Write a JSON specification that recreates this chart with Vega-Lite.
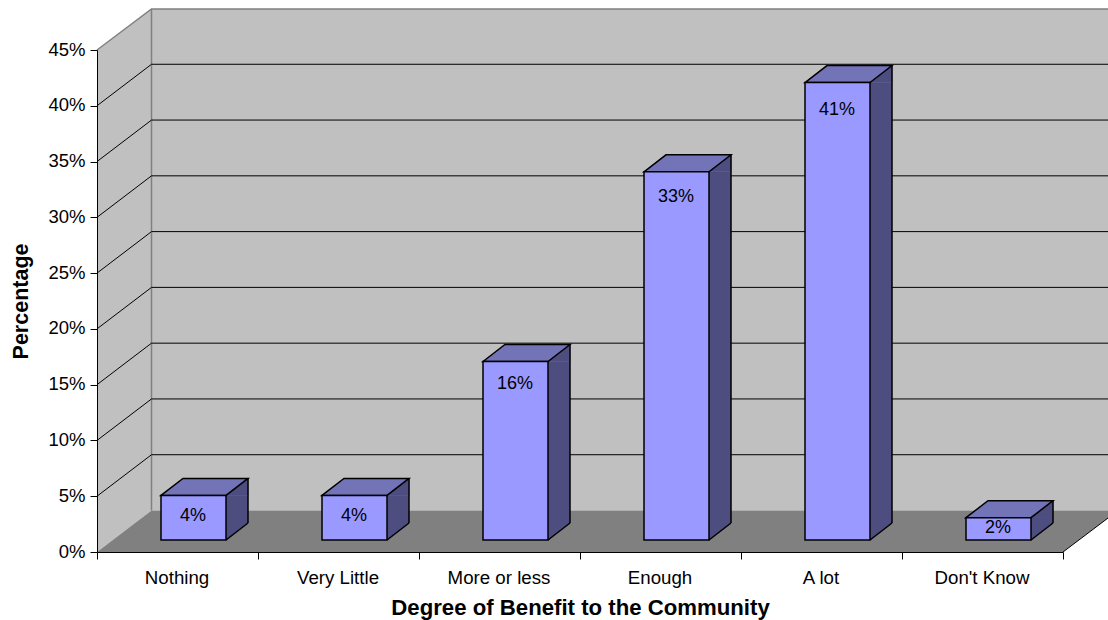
{
"$schema":"https://vega.github.io/schema/vega-lite/v6.json",
"width":966,"height":502,
"autosize":{"type":"none"},
"padding":{"left":97,"top":50,"right":45,"bottom":68},
"background":"white",
"config":{"view":{"stroke":null},"font":"Liberation Sans","text":{"font":"Liberation Sans"}},
"datasets":{
"bars":[{"degree":"Nothing","share":0.04},{"degree":"Very Little","share":0.04},{"degree":"More or less","share":0.16},{"degree":"Enough","share":0.33},{"degree":"A lot","share":0.41},{"degree":"Don't Know","share":0.02}],
"ticks":[{"degree":"Nothing","share":0.05},{"degree":"Nothing","share":0.10},{"degree":"Nothing","share":0.15},{"degree":"Nothing","share":0.20},{"degree":"Nothing","share":0.25},{"degree":"Nothing","share":0.30},{"degree":"Nothing","share":0.35},{"degree":"Nothing","share":0.40}],
"frame":[{"degree":"Nothing","share":0}],
"base":[{"degree":"Nothing","share":0},{"degree":"Very Little","share":0},{"degree":"More or less","share":0},{"degree":"Enough","share":0},{"degree":"A lot","share":0},{"degree":"Don't Know","share":0}]
},
"data":{"name":"bars"},
"encoding":{
"x":{"field":"degree","type":"nominal","sort":null,"title":"Degree of Benefit to the Community",
"scale":{"type":"band","domain":["Nothing","Very Little","More or less","Enough","A lot","Don't Know"],"paddingInner":0,"paddingOuter":0},
"axis":{"tickBand":"extent","labelAngle":0,"labelFont":"Liberation Sans","labelFontSize":18.7,"labelColor":"black","labelPadding":9,"labelOverlap":false,"labelOffset":-1,"tickColor":"black","tickSize":7,"domainColor":"black","grid":false,"titleFont":"Liberation Sans","titleFontSize":22.2,"titleFontWeight":"bold","titleColor":"black","titlePadding":10,"zindex":1}},
"y":{"field":"share","type":"quantitative","title":"Percentage",
"scale":{"domain":[0,0.45],"nice":false},
"axis":{"values":[0,0.05,0.10,0.15,0.20,0.25,0.30,0.35,0.40,0.45],"format":".0%","labelFont":"Liberation Sans","labelFontSize":18.5,"labelColor":"black","labelPadding":5,"labelOffset":-1,"tickColor":"black","tickSize":7,"domainColor":"black","grid":false,"titleFont":"Liberation Sans","titleFontSize":21.5,"titleFontWeight":"bold","titleColor":"black","titleX":-65,"titleY":251,"zindex":1}}
},
"layer":[
{"data":{"name":"frame"},"mark":{"type":"point","shape":"M0 0 L54.5 -41.5 L1021 -41.5 L1021 -543 L54.5 -543 L0 -502 Z","size":4,"filled":true,"fill":"#C0C0C0","stroke":null,"opacity":1,"xOffset":-80.5}},
{"data":{"name":"frame"},"mark":{"type":"point","shape":"M0 0 L54.5 -41.5 L1021 -41.5 L966 0 Z","size":4,"filled":true,"fill":"#808080","stroke":null,"opacity":1,"xOffset":-80.5}},
{"data":{"name":"frame"},"mark":{"type":"point","shape":"M0 -502 L54.5 -543 L1021 -543 M54.5 -543 L54.5 -41.5","size":4,"filled":false,"fill":"transparent","stroke":"#808080","strokeWidth":1.5,"opacity":1,"xOffset":-80.5}},
{"data":{"name":"frame"},"mark":{"type":"point","shape":"M966 0 L1021 -41.5","size":4,"filled":false,"fill":"transparent","stroke":"black","strokeWidth":1,"opacity":1,"xOffset":-80.5}},
{"data":{"name":"ticks"},"mark":{"type":"point","shape":"M0 0 L54.5 -41.5 L1021 -41.5","size":4,"filled":false,"fill":"transparent","stroke":"black","strokeWidth":1,"opacity":1,"xOffset":-80.5}},

{"mark":{"type":"bar","size":22,"color":"#4D4D80","xOffset":59.5,"yOffset":-12,"y2Offset":-29,"stroke":null},"encoding":{"y2":{"datum":0}}},
{"mark":{"type":"point","shape":"M0 0 L22 0 L22 -17 Z","size":4,"filled":true,"fill":"#4D4D80","stroke":"#4D4D80","strokeWidth":0.5,"opacity":1,"xOffset":48.5,"yOffset":-12}},
{"data":{"name":"base"},"mark":{"type":"point","shape":"M0 -17 L22 -17 L0 0 Z","size":4,"filled":true,"fill":"#4D4D80","stroke":"#4D4D80","strokeWidth":0.5,"opacity":1,"xOffset":48.5,"yOffset":-12}},
{"data":{"name":"base"},"mark":{"type":"point","shape":"M0 0 L22 -17","size":4,"filled":false,"fill":"transparent","stroke":"black","strokeWidth":1.5,"opacity":1,"xOffset":48.5,"yOffset":-12}},
{"mark":{"type":"rule","stroke":"black","strokeWidth":1.5,"xOffset":70.5,"yOffset":-29,"y2Offset":-29},"encoding":{"y2":{"datum":0}}},
{"mark":{"type":"point","shape":"M0 0 L22 -17 L87 -17 L65 0 Z","size":4,"filled":true,"fill":"#7373B8","stroke":"black","strokeWidth":1.5,"opacity":1,"xOffset":-16.5,"yOffset":-12}},
{"mark":{"type":"bar","size":65,"color":"#9999FF","stroke":"black","strokeWidth":1.5,"xOffset":16,"yOffset":-12,"y2Offset":-12},"encoding":{"y2":{"datum":0}}},

{"transform":[{"filter":"datum.share === 0.04"}],"mark":{"type":"text","fontSize":18,"color":"black","baseline":"middle","xOffset":15.5,"yOffset":9},"encoding":{"text":{"field":"share","type":"quantitative","format":".0%"}}},
{"transform":[{"filter":"datum.share === 0.16"}],"mark":{"type":"text","fontSize":18,"color":"black","baseline":"middle","xOffset":15.5,"yOffset":10.6},"encoding":{"text":{"field":"share","type":"quantitative","format":".0%"}}},
{"transform":[{"filter":"datum.share === 0.33"}],"mark":{"type":"text","fontSize":18,"color":"black","baseline":"middle","xOffset":15.5,"yOffset":13},"encoding":{"text":{"field":"share","type":"quantitative","format":".0%"}}},
{"transform":[{"filter":"datum.share === 0.41"}],"mark":{"type":"text","fontSize":18,"color":"black","baseline":"middle","xOffset":15.5,"yOffset":15.6},"encoding":{"text":{"field":"share","type":"quantitative","format":".0%"}}},
{"transform":[{"filter":"datum.share === 0.02"}],"mark":{"type":"text","fontSize":18,"color":"black","baseline":"middle","xOffset":15.5,"yOffset":-1.7},"encoding":{"text":{"field":"share","type":"quantitative","format":".0%"}}}
]
}
